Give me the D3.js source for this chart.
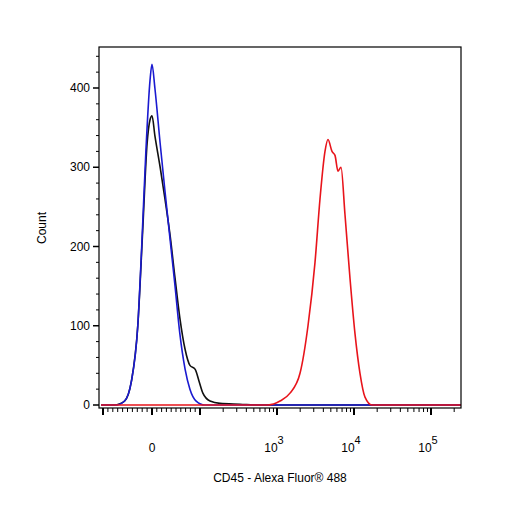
<!DOCTYPE html>
<html><head><meta charset="utf-8">
<script src="https://cdn.jsdelivr.net/npm/d3@7"></script>
<style>body{margin:0;background:#fff}text{font-family:"Liberation Sans",Arial,sans-serif;font-size:12px;fill:#000}</style>
</head><body><div id="chart"></div>
<script>
// histogram curves: [signal, count]
var blue = [[-110,0],[-73,0],[-56,5],[-42,30],[-29,100],[-21,200],[-12.5,320],[-4,410],[0,430],[6,400],[17,330],[27,270],[37.5,210],[48,150],[58,90],[69,45],[79,20],[92,5],[116,0],[250000,0]];
var black = [[-110,0],[-77,0],[-56,5],[-42,30],[-29,100],[-19,220],[-10,330],[-4,360],[0,365],[6,340],[17,300],[27,260],[37.5,215],[48,160],[58,110],[69,70],[79,50],[90,45],[98,30],[109,15],[135,5],[182,2],[330,1],[600,0],[250000,0]];
var red = [[-110,0],[764,0],[1094,5],[1475,15],[1990,40],[2527,100],[3116,180],[3617,260],[4200,320],[4594,335],[5180,320],[5666,315],[6198,295],[6780,300],[7640,240],[8870,160],[10300,90],[11960,40],[13890,10],[17130,0],[250000,0]];
var yTicks = [0,100,200,300,400];
var xLabels = [[0,"0",""],[1000,"10","3"],[10000,"10","4"],[100000,"10","5"]];

var W = 506, H = 506, L = 99, R = 461, T = 47, B = 408;
var svg = d3.select('#chart').append('svg').attr('width', W).attr('height', H);

// biexponential-like display transform
function tr(v) {
    if (Math.abs(v) <= 100) return v / 100;
    return Math.sign(v) * (1 + Math.log10(Math.abs(v) / 100));
}
var xs = d3.scaleLinear().domain([-1, 0, 1, 4]).range([103, 152, 200, 431]);
function x(v) { return Math.max(L, Math.min(R, xs(tr(v)))); }
var y = d3.scaleLinear().domain([0, 400]).range([405, 88]);

var line = d3.line().x(function(d){ return x(d[0]); }).y(function(d){ return y(d[1]); }).curve(d3.curveMonotoneX);
[[black,'#111'],[blue,'#1a1ad0'],[red,'#e8141b']].forEach(function(s){
    svg.append('path').attr('d', line(s[0])).attr('fill','none').attr('stroke', s[1]).attr('stroke-width', 1.6);
});

svg.append('rect').attr('x', L).attr('y', T).attr('width', R - L).attr('height', B - T)
    .attr('fill', 'none').attr('stroke', '#000').attr('stroke-width', 1.2);

// y ticks
for (var c = 0; c <= 440; c += 20) {
    var major = c % 100 == 0;
    if (y(c) < T) break;
    svg.append('line').attr('x1', L).attr('x2', L - (major ? 6 : 3)).attr('y1', y(c)).attr('y2', y(c)).attr('stroke', '#000').attr('stroke-width', major ? 1.5 : 1);
}
svg.selectAll('.yl').data(yTicks).enter().append('text')
    .attr('x', L - 9).attr('y', function(d){ return y(d) + 4; }).attr('text-anchor', 'end').text(function(d){ return d; });

// x ticks
var minors = [];
for (var v = -100; v <= 100; v += 10) minors.push(v);
[100, 1000, 10000, 100000].forEach(function(d){ for (var k = 2; k <= 9; k++) minors.push(d * k); });
minors.forEach(function(v){
    var px = x(v); if (px <= L || px >= R) return;
    svg.append('line').attr('x1', px).attr('x2', px).attr('y1', B).attr('y2', B + 4).attr('stroke', '#000').attr('stroke-width', 1);
});
[-100, 0, 100, 1000, 10000, 100000].forEach(function(v){
    svg.append('line').attr('x1', x(v)).attr('x2', x(v)).attr('y1', B).attr('y2', B + 7).attr('stroke', '#000').attr('stroke-width', 2);
});
xLabels.forEach(function(d){
    var t = svg.append('text').attr('x', x(d[0]) - (d[2] ? 3 : 0)).attr('y', 452).attr('text-anchor', 'middle');
    t.append('tspan').text(d[1]);
    if (d[2]) t.append('tspan').attr('dy', -8).attr('font-size', '11px').text(d[2]);
});

svg.append('text').attr('x', 280).attr('y', 482).attr('text-anchor', 'middle').text('CD45 - Alexa Fluor® 488');
svg.append('text').attr('transform', 'translate(46,228) rotate(-90)').attr('text-anchor', 'middle').text('Count');
</script></body></html>
